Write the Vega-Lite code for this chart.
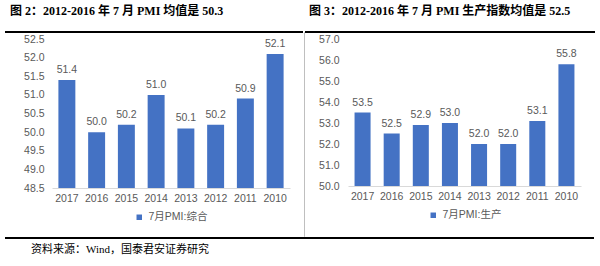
{
  "$schema": "https://vega.github.io/schema/vega-lite/v6.json",
  "background": "white",
  "padding": {"left": 5, "top": 4, "right": 0, "bottom": 0},
  "config": {"view": {"stroke": null}, "font": "Liberation Sans, Noto Sans CJK SC", "legend": {"layout": {"bottom": {"anchor": "middle"}}}},
  "spacing": 0,
  "resolve": {"scale": {"color": "independent"}, "legend": {"color": "independent"}},
  "vconcat": [
    {
      "spacing": 0,
      "resolve": {"scale": {"color": "independent"}, "legend": {"color": "independent"}},
      "hconcat": [
        {
          "spacing": 0,
          "resolve": {"scale": {"color": "independent"}, "legend": {"color": "independent"}},
          "vconcat": [
            {
              "width": 296,
              "height": 0.01,
              "view": {"stroke": "#000000", "strokeWidth": 2},
              "title": {"text": "图 2：2012-2016 年 7 月 PMI 均值是 50.3", "anchor": "start", "dx": 4, "offset": 3, "fontSize": 12, "font": "Liberation Serif, Noto Sans CJK SC", "fontWeight": "bold", "color": "#000000"},
              "data": {"values": [{}]},
              "mark": {"type": "text", "baseline": "bottom"},
              "encoding": {"text": {"value": ""}}
            },
            {
              "spacing": 0,
              "resolve": {"scale": {"color": "independent"}, "legend": {"color": "independent"}},
              "hconcat": [
                {
                  "width": 17,
                  "height": 100,
                  "data": {"values": [{}]},
                  "mark": {"type": "text"},
                  "encoding": {"text": {"value": ""}}
                },
                {
                  "width": 238,
                  "height": 149,
                  "data": {"values": [
                    {"year": "2017", "value": 51.4, "series": "7月PMI:综合"},
                    {"year": "2016", "value": 50.0, "series": "7月PMI:综合"},
                    {"year": "2015", "value": 50.2, "series": "7月PMI:综合"},
                    {"year": "2014", "value": 51.0, "series": "7月PMI:综合"},
                    {"year": "2013", "value": 50.1, "series": "7月PMI:综合"},
                    {"year": "2012", "value": 50.2, "series": "7月PMI:综合"},
                    {"year": "2011", "value": 50.9, "series": "7月PMI:综合"},
                    {"year": "2010", "value": 52.1, "series": "7月PMI:综合"}
                  ]},
                  "encoding": {
                    "x": {"field": "year", "type": "nominal", "sort": null,
                      "scale": {"paddingInner": 0.43, "paddingOuter": 0.215},
                      "axis": {"title": null, "labelAngle": 0, "ticks": false, "domainColor": "#d9d9d9", "domainWidth": 1, "labelColor": "#595959", "labelFontSize": 10.5, "labelPadding": 5}}
                  },
                  "layer": [
                    {
                      "mark": {"type": "bar"},
                      "encoding": {
                        "y": {"field": "value", "type": "quantitative",
                          "scale": {"domain": [48.5, 52.5], "zero": false, "nice": false},
                          "axis": {"title": null, "values": [48.5, 49, 49.5, 50, 50.5, 51, 51.5, 52, 52.5], "format": ".1f", "ticks": false, "domain": false, "grid": false, "labelOverlap": false, "labelColor": "#595959", "labelFontSize": 10.5, "labelPadding": 8}},
                        "y2": {"datum": 48.5},
                        "color": {"field": "series", "type": "nominal", "scale": {"range": ["#4472C4"]},
                          "legend": {"title": null, "orient": "bottom", "symbolType": "square", "symbolSize": 30, "symbolStrokeWidth": 0, "labelFontSize": 10.5, "labelColor": "#595959", "offset": 8}}
                      }
                    },
                    {
                      "mark": {"type": "text", "baseline": "bottom", "dy": -5, "fontSize": 10.5, "color": "#595959"},
                      "encoding": {
                        "y": {"field": "value", "type": "quantitative",
                          "axis": {"title": null, "values": [48.5, 49, 49.5, 50, 50.5, 51, 51.5, 52, 52.5], "format": ".1f", "ticks": false, "domain": false, "grid": false, "labelOverlap": false, "labelColor": "#595959", "labelFontSize": 10.5, "labelPadding": 8}},
                        "text": {"field": "value", "type": "quantitative", "format": ".1f"}
                      }
                    }
                  ]
                }
              ]
            }
          ]
        },
        {
          "width": 0.01,
          "height": 204,
          "view": {"stroke": "#bfbfbf", "strokeWidth": 1},
          "title": {"text": " ", "anchor": "start", "offset": 3, "fontSize": 12, "font": "Liberation Serif, Noto Sans CJK SC", "fontWeight": "bold"},
          "data": {"values": [{}]},
          "mark": {"type": "text"},
          "encoding": {"text": {"value": ""}}
        },
        {
          "spacing": 0,
          "resolve": {"scale": {"color": "independent"}, "legend": {"color": "independent"}},
          "vconcat": [
            {
              "width": 288,
              "height": 0.01,
              "view": {"stroke": "#000000", "strokeWidth": 2},
              "title": {"text": "图 3：2012-2016 年 7 月 PMI 生产指数均值是 52.5", "anchor": "start", "dx": 3, "offset": 3, "fontSize": 12, "font": "Liberation Serif, Noto Sans CJK SC", "fontWeight": "bold", "color": "#000000"},
              "data": {"values": [{}]},
              "mark": {"type": "text", "baseline": "bottom"},
              "encoding": {"text": {"value": ""}}
            },
            {
              "spacing": 0,
              "resolve": {"scale": {"color": "independent"}, "legend": {"color": "independent"}},
              "hconcat": [
                {
                  "width": 12,
                  "height": 100,
                  "data": {"values": [{}]},
                  "mark": {"type": "text"},
                  "encoding": {"text": {"value": ""}}
                },
                {
                  "width": 233,
                  "height": 147,
                  "data": {"values": [
                    {"year": "2017", "value": 53.5, "series": "7月PMI:生产"},
                    {"year": "2016", "value": 52.5, "series": "7月PMI:生产"},
                    {"year": "2015", "value": 52.9, "series": "7月PMI:生产"},
                    {"year": "2014", "value": 53.0, "series": "7月PMI:生产"},
                    {"year": "2013", "value": 52.0, "series": "7月PMI:生产"},
                    {"year": "2012", "value": 52.0, "series": "7月PMI:生产"},
                    {"year": "2011", "value": 53.1, "series": "7月PMI:生产"},
                    {"year": "2010", "value": 55.8, "series": "7月PMI:生产"}
                  ]},
                  "encoding": {
                    "x": {"field": "year", "type": "nominal", "sort": null,
                      "scale": {"paddingInner": 0.45, "paddingOuter": 0.225},
                      "axis": {"title": null, "labelAngle": 0, "ticks": false, "domainColor": "#d9d9d9", "domainWidth": 1, "labelColor": "#595959", "labelFontSize": 10.5, "labelPadding": 5}}
                  },
                  "layer": [
                    {
                      "mark": {"type": "bar"},
                      "encoding": {
                        "y": {"field": "value", "type": "quantitative",
                          "scale": {"domain": [50, 57], "zero": false, "nice": false},
                          "axis": {"title": null, "values": [50, 51, 52, 53, 54, 55, 56, 57], "format": ".1f", "ticks": false, "domain": false, "grid": false, "labelOverlap": false, "labelColor": "#595959", "labelFontSize": 10.5, "labelPadding": 9}},
                        "y2": {"datum": 50},
                        "color": {"field": "series", "type": "nominal", "scale": {"range": ["#4472C4"]},
                          "legend": {"title": null, "orient": "bottom", "symbolType": "square", "symbolSize": 30, "symbolStrokeWidth": 0, "labelFontSize": 10.5, "labelColor": "#595959", "offset": 8}}
                      }
                    },
                    {
                      "mark": {"type": "text", "baseline": "bottom", "dy": -5, "fontSize": 10.5, "color": "#595959"},
                      "encoding": {
                        "y": {"field": "value", "type": "quantitative",
                          "axis": {"title": null, "values": [50, 51, 52, 53, 54, 55, 56, 57], "format": ".1f", "ticks": false, "domain": false, "grid": false, "labelOverlap": false, "labelColor": "#595959", "labelFontSize": 10.5, "labelPadding": 9}},
                        "text": {"field": "value", "type": "quantitative", "format": ".1f"}
                      }
                    }
                  ]
                }
              ]
            }
          ]
        }
      ]
    },
    {
      "width": 587,
      "height": 0.01,
      "view": {"stroke": "#000000", "strokeWidth": 2},
      "title": {"text": "资料来源：Wind，国泰君安证券研究", "orient": "bottom", "anchor": "start", "dx": 25, "offset": 5, "fontSize": 11, "fontWeight": "normal", "font": "Liberation Serif, Noto Sans CJK SC", "color": "#000000"},
      "data": {"values": [{}]},
      "mark": {"type": "text", "baseline": "top", "fontSize": 1},
      "encoding": {"text": {"value": ""}}
    }
  ]
}
